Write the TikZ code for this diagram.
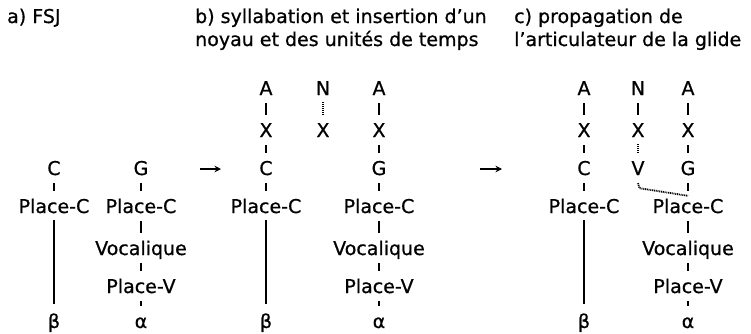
\documentclass[tikz,border=0pt]{standalone}
\usepackage{fontspec}
\setmainfont{DejaVu Sans}[FakeBold=0.7]
\usetikzlibrary{arrows.meta}
\begin{document}
\begin{tikzpicture}[x=1pt,y=-1pt,
  lab/.style={anchor=base,inner sep=0pt,font=\fontsize{19pt}{23pt}\selectfont,text height=14pt,text depth=0pt},
  ttl/.style={anchor=base west,inner sep=0pt,font=\fontsize{19pt}{23pt}\selectfont},
  tick/.style={line width=2pt,shorten <=8pt,shorten >=8pt},
  longline/.style={line width=2.4pt,shorten <=7pt,shorten >=10pt},
  dotline/.style={line width=1.8pt,dash pattern=on 1pt off 1pt,shorten <=7pt,shorten >=7pt},
  arr/.style={line width=1.6pt,-{Stealth[length=6.5pt,width=6.5pt]}}
]
\useasboundingbox (0,0) rectangle (751,333);

% titles
\node[ttl] (ta) at (7,23) {a) FSJ};
\node[ttl] (tb1) at (195,23) {b) syllabation et insertion d’un};
\node[ttl] (tb2) at (195,46) {noyau et des unités de temps};
\node[ttl] (tc1) at (514,23) {c) propagation de};
\node[ttl] (tc2) at (514,46) {l’articulateur de la glide};

% panel a
\node[lab] (aC) at (54,175) {C};
\node[lab] (aPC1) at (54,213) {Place-C};
\node[lab] (aB) at (54,328) {β};
\node[lab] (aG) at (141,175) {G};
\node[lab] (aPC2) at (141,213) {Place-C};
\node[lab] (aVoc) at (141,255) {Vocalique};
\node[lab] (aPV) at (141,293) {Place-V};
\node[lab] (aAl) at (141,328) {α};
\draw[tick] (aC) -- (aPC1);
\draw[longline] (aPC1) -- (aB);
\draw[tick] (aG) -- (aPC2);
\draw[tick] (aPC2) -- (aVoc);
\draw[tick] (aVoc) -- (aPV);
\draw[tick] (aPV) -- (aAl);

% arrow 1
\coordinate (ar1s) at (200,169);
\coordinate (ar1e) at (221,169);
\draw[arr] (ar1s) -- (ar1e);

% panel b
\node[lab] (bA1) at (266,95) {A};
\node[lab] (bX1) at (266,137) {X};
\node[lab] (bC) at (266,175) {C};
\node[lab] (bPC1) at (266,213) {Place-C};
\node[lab] (bB) at (266,328) {β};
\node[lab] (bN) at (323,95) {N};
\node[lab] (bXN) at (323,137) {X};
\node[lab] (bA2) at (379,95) {A};
\node[lab] (bX2) at (379,137) {X};
\node[lab] (bG) at (379,175) {G};
\node[lab] (bPC2) at (379,213) {Place-C};
\node[lab] (bVoc) at (379,255) {Vocalique};
\node[lab] (bPV) at (379,293) {Place-V};
\node[lab] (bAl) at (379,328) {α};
\draw[tick] (bA1) -- (bX1);
\draw[tick] (bX1) -- (bC);
\draw[tick] (bC) -- (bPC1);
\draw[longline] (bPC1) -- (bB);
\draw[dotline] (bN) -- (bXN);
\draw[tick] (bA2) -- (bX2);
\draw[tick] (bX2) -- (bG);
\draw[tick] (bG) -- (bPC2);
\draw[tick] (bPC2) -- (bVoc);
\draw[tick] (bVoc) -- (bPV);
\draw[tick] (bPV) -- (bAl);

% arrow 2
\coordinate (ar2s) at (480,169);
\coordinate (ar2e) at (502,169);
\draw[arr] (ar2s) -- (ar2e);

% panel c
\node[lab] (cA1) at (584,95) {A};
\node[lab] (cX1) at (584,137) {X};
\node[lab] (cC) at (584,175) {C};
\node[lab] (cPC1) at (584,213) {Place-C};
\node[lab] (cB) at (584,328) {β};
\node[lab] (cN) at (638,95) {N};
\node[lab] (cXN) at (638,137) {X};
\node[lab] (cV) at (638,175) {V};
\node[lab] (cA2) at (688,95) {A};
\node[lab] (cX2) at (688,137) {X};
\node[lab] (cG) at (688,175) {G};
\node[lab] (cPC2) at (688,213) {Place-C};
\node[lab] (cVoc) at (688,255) {Vocalique};
\node[lab] (cPV) at (688,293) {Place-V};
\node[lab] (cAl) at (688,328) {α};
\draw[tick] (cA1) -- (cX1);
\draw[tick] (cX1) -- (cC);
\draw[tick] (cC) -- (cPC1);
\draw[longline] (cPC1) -- (cB);
\draw[tick] (cN) -- (cXN);
\draw[dotline] (cXN) -- (cV);
\draw[tick] (cA2) -- (cX2);
\draw[tick] (cX2) -- (cG);
\draw[tick] (cG) -- (cPC2);
\draw[tick] (cPC2) -- (cVoc);
\draw[tick] (cVoc) -- (cPV);
\draw[tick] (cPV) -- (cAl);
\draw[line width=1.8pt,dash pattern=on 1pt off 0.8pt]
  ([yshift=-8pt]cV.south) -- ([xshift=1.5pt,yshift=-13pt]cV.south) -- ([yshift=3pt]cPC2.north);
\end{tikzpicture}
\end{document}
